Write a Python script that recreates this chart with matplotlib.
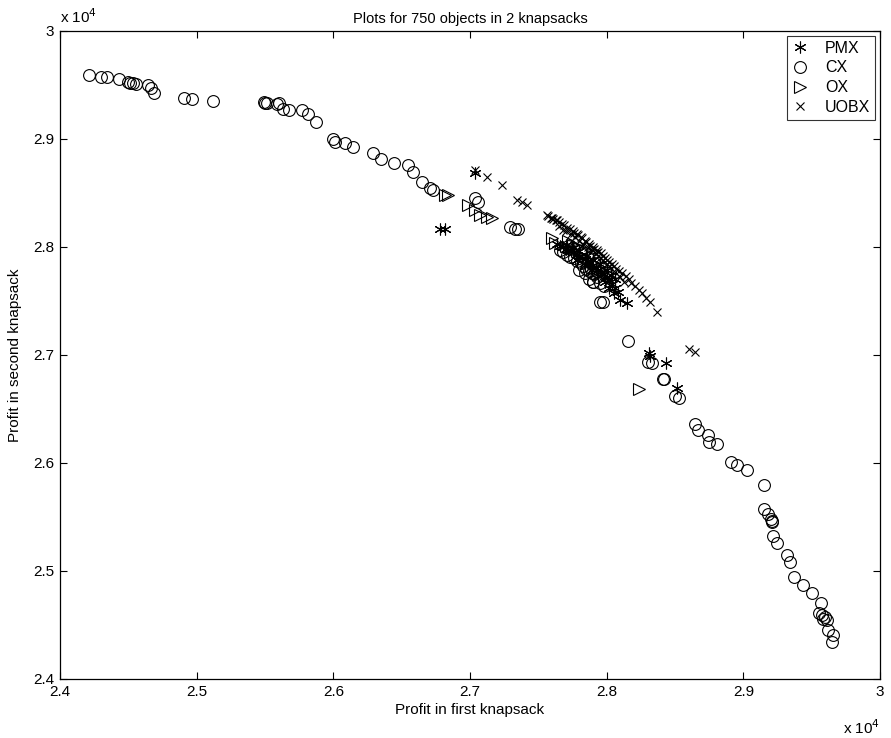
import matplotlib
matplotlib.use("Agg")
import matplotlib.pyplot as plt
from matplotlib.ticker import FormatStrFormatter

plt.rcParams['font.family'] = ['Liberation Sans', 'DejaVu Sans']

# profits in units of 1e4
cx_x = [2.4214, 2.4300, 2.4342, 2.4432, 2.4500, 2.4512, 2.4536, 2.4556, 2.4646, 2.4666,
        2.4690, 2.4910, 2.4964, 2.5117, 2.5495, 2.5500, 2.5512, 2.5590, 2.5605, 2.5634,
        2.5678, 2.5769, 2.5817, 2.5873, 2.5995, 2.6012, 2.6085, 2.6146, 2.6293, 2.6347,
        2.6446, 2.6544, 2.6585, 2.6647, 2.6707, 2.6731, 2.7037, 2.7061, 2.7293, 2.7329,
        2.7353,
        2.7660, 2.7680, 2.7710, 2.7730, 2.7760, 2.7780, 2.7810, 2.7830, 2.7850, 2.7870,
        2.7890, 2.7910, 2.7930, 2.7900, 2.7870, 2.7902, 2.7951, 2.7975, 2.7720, 2.7760,
        2.7810, 2.7860, 2.7910, 2.7960, 2.8000, 2.7800, 2.7840, 2.7950, 2.7980,
        2.8158, 2.8305, 2.8330, 2.8414, 2.8418, 2.8500, 2.8532, 2.8646, 2.8671, 2.8744,
        2.8751, 2.8810, 2.8908, 2.8956, 2.9029, 2.9150, 2.9152, 2.9180, 2.9200, 2.9210,
        2.9212, 2.9220, 2.9246, 2.9322, 2.9342, 2.9371, 2.9434, 2.9500, 2.9566, 2.9556,
        2.9573, 2.9581, 2.9598, 2.9610, 2.9622, 2.9654, 2.9647]
cx_y = [2.9593, 2.9577, 2.9571, 2.9553, 2.9531, 2.9521, 2.9516, 2.9507, 2.9500, 2.9469,
        2.9429, 2.9377, 2.9368, 2.9352, 2.9346, 2.9331, 2.9336, 2.9324, 2.9331, 2.9275,
        2.9269, 2.9269, 2.9229, 2.9160, 2.8997, 2.8975, 2.8966, 2.8923, 2.8868, 2.8815,
        2.8775, 2.8759, 2.8697, 2.8605, 2.8544, 2.8528, 2.8451, 2.8419, 2.8188, 2.8164,
        2.8164,
        2.7970, 2.7950, 2.7930, 2.7910, 2.7900, 2.7870, 2.7850, 2.7820, 2.7800, 2.7780,
        2.7760, 2.7750, 2.7720, 2.7680, 2.7700, 2.7679, 2.7494, 2.7494, 2.8010, 2.7980,
        2.7940, 2.7900, 2.7850, 2.7810, 2.7760, 2.7790, 2.7760, 2.7670, 2.7640,
        2.7132, 2.6938, 2.6923, 2.6775, 2.6778, 2.6620, 2.6599, 2.6361, 2.6306, 2.6259,
        2.6197, 2.6176, 2.6012, 2.5981, 2.5935, 2.5796, 2.5574, 2.5530, 2.5480, 2.5460,
        2.5455, 2.5320, 2.5260, 2.5148, 2.5086, 2.4947, 2.4870, 2.4799, 2.4701, 2.4608,
        2.4593, 2.4553, 2.4571, 2.4546, 2.4454, 2.4407, 2.4345]

pmx_x = [2.6780, 2.6817, 2.7037,
         2.7640, 2.7660, 2.7680, 2.7700, 2.7720, 2.7740, 2.7760, 2.7780, 2.7800, 2.7820,
         2.7840, 2.7860, 2.7880, 2.7900, 2.7920, 2.7940, 2.7960, 2.7980, 2.8000, 2.8020,
         2.8040, 2.8060, 2.8080, 2.8098, 2.8147,
         2.7700, 2.7750, 2.7800, 2.7850, 2.7900, 2.7950, 2.8000, 2.8030, 2.8060, 2.7780,
         2.7840, 2.7890, 2.7940, 2.7990, 2.8020, 2.8050,
         2.8312, 2.8315, 2.8434, 2.8513]
pmx_y = [2.8167, 2.8167, 2.8688,
         2.8030, 2.8010, 2.8000, 2.7980, 2.7970, 2.7960, 2.7950, 2.7930, 2.7920, 2.7900,
         2.7890, 2.7870, 2.7850, 2.7830, 2.7810, 2.7790, 2.7770, 2.7750, 2.7720, 2.7690,
         2.7660, 2.7620, 2.7580, 2.7509, 2.7484,
         2.8020, 2.7990, 2.7960, 2.7920, 2.7880, 2.7840, 2.7790, 2.7740, 2.7700, 2.7880,
         2.7830, 2.7790, 2.7730, 2.7680, 2.7620, 2.7570,
         2.7021, 2.6990, 2.6929, 2.6692]

ox_x = [2.6817, 2.6841, 2.6988, 2.7037, 2.7073, 2.7122, 2.7159, 2.7598, 2.7620,
        2.7720, 2.7750, 2.7790, 2.7840, 2.7900, 2.8239]
ox_y = [2.8481, 2.8481, 2.8389, 2.8343, 2.8296, 2.8281, 2.8266, 2.8081, 2.8040,
        2.8060, 2.8030, 2.8000, 2.7970, 2.7920, 2.6682]

uobx_x = [2.7037, 2.7122, 2.7232, 2.7342, 2.7378, 2.7415, 2.7561, 2.7598, 2.7634,
          2.7570, 2.7590, 2.7610, 2.7630, 2.7650, 2.7670, 2.7690, 2.7710, 2.7730, 2.7750,
          2.7760, 2.7780, 2.7790, 2.7810, 2.7820, 2.7840, 2.7850, 2.7870, 2.7880, 2.7900,
          2.7910, 2.7930, 2.7940, 2.7960, 2.7970, 2.7990, 2.8000, 2.8020, 2.8040, 2.8050,
          2.8070, 2.8090, 2.8110, 2.8140, 2.8160, 2.8180, 2.8210, 2.8240, 2.8260, 2.8290,
          2.8320, 2.8366,
          2.7700, 2.7740, 2.7800, 2.7860, 2.7920, 2.7970, 2.8020, 2.8060, 2.8100, 2.8130,
          2.7650, 2.7680, 2.7770, 2.7830, 2.7890, 2.7950, 2.8000,
          2.8605, 2.8646]
uobx_y = [2.8710, 2.8651, 2.8574, 2.8435, 2.8419, 2.8389, 2.8296, 2.8266, 2.8250,
          2.8290, 2.8270, 2.8260, 2.8250, 2.8230, 2.8210, 2.8200, 2.8180, 2.8170, 2.8150,
          2.8130, 2.8120, 2.8110, 2.8090, 2.8080, 2.8060, 2.8050, 2.8030, 2.8010, 2.8000,
          2.7980, 2.7970, 2.7950, 2.7940, 2.7920, 2.7900, 2.7880, 2.7860, 2.7840, 2.7820,
          2.7800, 2.7780, 2.7760, 2.7730, 2.7700, 2.7670, 2.7640, 2.7600, 2.7570, 2.7530,
          2.7490, 2.7401,
          2.8150, 2.8120, 2.8060, 2.8000, 2.7940, 2.7880, 2.7820, 2.7770, 2.7720, 2.7680,
          2.8190, 2.8160, 2.8090, 2.8030, 2.7970, 2.7900, 2.7840,
          2.7053, 2.7031]

fig = plt.figure(figsize=(8.91, 7.38), dpi=100)
ax = fig.add_axes([60 / 891, 59 / 738, 820 / 891, 648 / 738])

lw = 0.8
ax.plot(pmx_x, pmx_y, linestyle='none', marker=(6, 2, 0), markersize=8.5,
        markeredgewidth=lw, color='black', label='PMX')
ax.plot(cx_x, cx_y, linestyle='none', marker='o', markersize=8.5, markerfacecolor='none',
        markeredgewidth=lw, color='black', label='CX')
ax.plot(ox_x, ox_y, linestyle='none', marker='>', markersize=9, markerfacecolor='none',
        markeredgewidth=lw, color='black', label='OX')
ax.plot(uobx_x, uobx_y, linestyle='none', marker='x', markersize=5.5,
        markeredgewidth=lw, color='black', label='UOBX')

ax.set_xlim(2.4, 3.0)
ax.set_ylim(2.4, 3.0)
ax.set_xticks([2.4, 2.5, 2.6, 2.7, 2.8, 2.9, 3.0])
ax.set_yticks([2.4, 2.5, 2.6, 2.7, 2.8, 2.9, 3.0])
ax.xaxis.set_major_formatter(FormatStrFormatter('%g'))
ax.yaxis.set_major_formatter(FormatStrFormatter('%g'))
ax.tick_params(direction='in', top=True, right=True, length=5, width=0.8,
               labelsize=11, pad=4)
for s in ax.spines.values():
    s.set_linewidth(0.9)

ax.set_title('Plots for 750 objects in 2 knapsacks', fontsize=10.5, pad=6)
ax.set_xlabel('Profit in first knapsack', fontsize=11, labelpad=3)
ax.set_ylabel('Profit in second knapsack', fontsize=11, labelpad=8)

ax.text(0.0, 1.008, r'x 10$^4$', transform=ax.transAxes, fontsize=11,
        ha='left', va='bottom')
ax.text(1.0, -0.06, r'x 10$^4$', transform=ax.transAxes, fontsize=11,
        ha='right', va='top')

leg = ax.legend(loc='upper right', fontsize=11.5, frameon=True, fancybox=False,
                edgecolor='black', borderpad=0.3, handletextpad=1.0,
                labelspacing=0.3, handlelength=1.1, borderaxespad=0.3)
leg.get_frame().set_linewidth(0.8)

fig.savefig('out.png', dpi=100)
